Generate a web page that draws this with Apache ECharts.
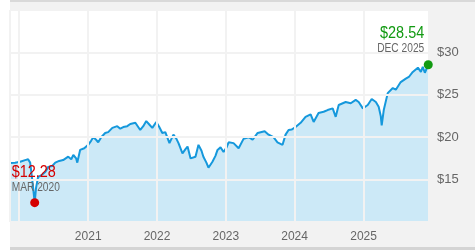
<!DOCTYPE html>
<html><head><meta charset="utf-8">
<script src="https://cdn.jsdelivr.net/npm/echarts@6/dist/echarts.min.js"></script>
<style>html,body{margin:0;padding:0;background:#fff}#c{width:475px;height:250px}</style>
</head><body><div id="c"></div>
<script>
const dates = ["2019-11-14","2019-12-10","2020-01-06","2020-02-01","2020-02-17","2020-02-28","2020-03-10","2020-03-23","2020-03-30","2020-04-10","2020-05-02","2020-05-18","2020-06-03","2020-06-24","2020-07-10","2020-07-31","2020-08-21","2020-09-17","2020-10-03","2020-10-14","2020-10-29","2020-11-04","2020-11-19","2020-12-11","2021-01-01","2021-01-17","2021-01-28","2021-02-12","2021-02-23","2021-03-11","2021-04-01","2021-04-17","2021-05-09","2021-06-04","2021-06-20","2021-07-06","2021-07-27","2021-08-12","2021-09-08","2021-10-04","2021-10-20","2021-11-05","2021-11-21","2021-12-07","2021-12-28","2022-01-13","2022-01-29","2022-02-14","2022-03-08","2022-03-29","2022-04-14","2022-04-25","2022-05-16","2022-06-01","2022-06-12","2022-06-28","2022-07-24","2022-08-09","2022-08-25","2022-09-04","2022-09-20","2022-10-01","2022-10-22","2022-11-07","2022-11-18","2022-12-04","2022-12-20","2023-01-05","2023-01-16","2023-02-11","2023-03-10","2023-04-05","2023-05-02","2023-05-23","2023-06-19","2023-07-26","2023-08-16","2023-09-11","2023-10-02","2023-10-29","2023-11-14","2023-11-30","2023-12-16","2024-01-06","2024-02-02","2024-02-28","2024-03-26","2024-04-11","2024-05-07","2024-06-03","2024-06-24","2024-07-21","2024-08-06","2024-08-22","2024-09-28","2024-10-25","2024-11-20","2024-12-06","2024-12-28","2025-01-23","2025-02-13","2025-03-07","2025-03-22","2025-04-02","2025-04-07","2025-04-18","2025-05-09","2025-06-05","2025-06-21","2025-07-17","2025-08-13","2025-08-29","2025-09-19","2025-10-16","2025-11-01","2025-11-11","2025-11-22","2025-12-10"];
const prices = [16.96,17.0,17.1,17.3,17.4,17.0,15.0,12.28,14.0,15.3,15.6,15.9,16.5,16.6,17.0,17.2,17.3,17.7,17.4,17.9,17.5,17.0,18.5,18.7,19.1,19.6,20.0,19.7,19.4,20.0,20.5,20.6,21.1,21.3,21.0,21.2,21.3,21.55,21.7,20.85,21.3,21.9,21.5,21.1,21.8,21.2,20.5,20.6,19.3,20.3,19.8,19.3,18.1,18.6,18.9,17.5,17.7,19.1,18.4,17.7,17.0,16.4,17.1,17.8,18.5,18.8,18.25,18.8,19.4,19.3,18.7,19.8,20.0,19.7,20.5,20.7,20.3,20.0,19.4,19.1,20.3,20.85,20.9,21.2,21.7,22.4,22.7,21.8,22.85,23.0,23.2,23.4,22.4,23.8,24.15,24.0,24.4,24.15,23.4,23.8,24.5,24.15,23.6,22.5,21.4,23.2,25.2,25.8,25.6,26.5,26.9,27.1,27.7,28.2,27.7,28.3,27.6,28.54];
const xTickYears = [2021, 2022, 2023, 2024, 2025];
const yTicks = [15, 20, 25, 30];
const lowLabel = {date: "2020-03-23", value: 12.28, price: "$12.28", when: "MAR 2020"};
const lastLabel = {date: "2025-12-10", value: 28.54, price: "$28.54", when: "DEC 2025"};
const axisMin = "2019-11-13", axisMax = "2025-12-14";

const FONT = "'Liberation Sans',Arial,sans-serif";
const chart = echarts.init(document.getElementById('c'), null, {renderer: 'canvas'});
const YEAR = 365.25 * 86400000;
chart.setOption({
  animation: false,
  backgroundColor: '#f2f2f2',
  textStyle: {fontFamily: FONT},
  grid: {left: 10, right: 46, top: 10, bottom: 28, show: true, backgroundColor: '#fff', borderWidth: 0},
  xAxis: {
    type: 'time', min: axisMin, max: axisMax, z: 5,
    minInterval: YEAR * 0.9, maxInterval: YEAR * 1.1,
    axisLine: {show: false}, axisTick: {show: false},
    axisLabel: {color: '#666', fontSize: 12, fontFamily: FONT, margin: 9,
      formatter: v => { const y = new Date(v).getFullYear(); return xTickYears.includes(y) ? String(y) : ''; }},
    splitLine: {show: true, lineStyle: {color: '#f2f2f2', width: 2}}
  },
  yAxis: {
    type: 'value', position: 'right', min: 10, max: 35, interval: 5, z: 5,
    axisLine: {show: false}, axisTick: {show: false},
    axisLabel: {color: '#666', fontSize: 13, fontFamily: FONT, margin: 8,
      formatter: v => yTicks.includes(v) ? '$' + v : ''},
    splitLine: {show: true, lineStyle: {color: '#f2f2f2', width: 2}}
  },
  series: [{
    type: 'line', z: 1, symbol: 'none', smooth: false,
    data: dates.map((d, i) => [d, prices[i]]),
    lineStyle: {color: '#1598dc', width: 2},
    areaStyle: {color: '#cce9f7', opacity: 1},
    markPoint: {
      symbol: 'circle', symbolSize: 9, label: {show: false},
      data: [
        {coord: [lowLabel.date, lowLabel.value], itemStyle: {color: '#d50000'}},
        {coord: [lastLabel.date, lastLabel.value], itemStyle: {color: '#129a12'}}
      ]
    }
  }]
});
const pLow = chart.convertToPixel({seriesIndex: 0}, [lowLabel.date, lowLabel.value]);
const pEnd = chart.convertToPixel({seriesIndex: 0}, [lastLabel.date, lastLabel.value]);
const SX = 0.85;
chart.setOption({
  graphic: [
    {type: 'rect', left: 0, top: 0, z: -10, shape: {width: 10, height: 250}, style: {fill: '#fff'}, silent: true},
    {type: 'rect', left: 10, top: 0, z: 10, shape: {width: 465, height: 2}, style: {fill: '#d9d9d9'}, silent: true},
    {type: 'rect', left: 10, top: 247, z: 10, shape: {width: 465, height: 3}, style: {fill: '#d4d4d4'}, silent: true},
    {type: 'text', x: pLow[0] - 23, y: pLow[1] - 30, scaleX: SX, z: 20, style: {text: lowLabel.price, fill: '#d50000', font: '17px ' + FONT, textAlign: 'left', textVerticalAlign: 'middle'}},
    {type: 'text', x: pLow[0] - 23, y: pLow[1] - 15, scaleX: SX, z: 20, style: {text: lowLabel.when, fill: '#666', font: '12px ' + FONT, textAlign: 'left', textVerticalAlign: 'middle'}},
    {type: 'text', x: pEnd[0] - 4, y: pEnd[1] - 31, scaleX: SX, z: 20, style: {text: lastLabel.price, fill: '#129a12', font: '17px ' + FONT, textAlign: 'right', textVerticalAlign: 'middle'}},
    {type: 'text', x: pEnd[0] - 4, y: pEnd[1] - 16, scaleX: SX, z: 20, style: {text: lastLabel.when, fill: '#666', font: '12px ' + FONT, textAlign: 'right', textVerticalAlign: 'middle'}}
  ]
});
</script></body></html>
